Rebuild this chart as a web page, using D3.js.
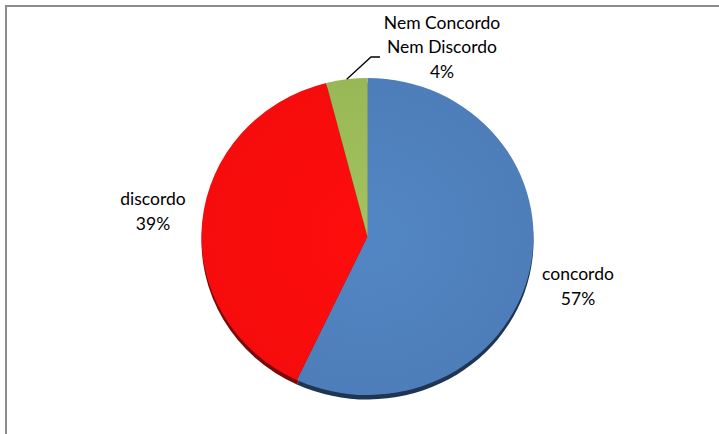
<!DOCTYPE html>
<html>
<head>
<meta charset="utf-8">
<script src="https://cdn.jsdelivr.net/npm/d3@7"></script>
<style>
  html, body { margin: 0; padding: 0; background: #fff; }
  svg { display: block; }
  text { font-family: Lato, "Open Sans", sans-serif; font-size: 17.5px; fill: #000; }
</style>
</head>
<body>
<svg id="chart" width="719" height="434"></svg>
<script>
// ---- data ----
const categories = ["concordo", "discordo", "Nem Concordo Nem Discordo"];
const values = [57, 39, 4];
const labelLines = [["concordo"], ["discordo"], ["Nem Concordo", "Nem Discordo"]];
const colors = ["#4F80BC", "#FA0C0C", "#9BBB59"];
const edgeColors = ["#1E3554", "#7A0A0A", "#4E6330"];

const W = 719, H = 434;
const cx = 367.5, cy = 236.5, rx = 166, ry = 158.5;

const svg = d3.select("#chart");

// frame (only left and top visible)
svg.append("rect")
  .attr("x", 6).attr("y", 6)
  .attr("width", W + 20).attr("height", H + 20)
  .attr("fill", "none").attr("stroke", "#8C8C8C").attr("stroke-width", 2);

const data = categories.map((c, i) => ({ name: c, value: values[i], lines: labelLines[i], i }));

const pie = d3.pie().sort(null).value(d => d.value).startAngle(0).endAngle(2 * Math.PI);
const arcs = pie(data);
const arc = d3.arc().innerRadius(0).outerRadius(rx);

// depth/edge layer
const depth = svg.append("g").attr("transform", `translate(${cx},${cy + 4.5}) scale(1,${ry / rx})`);
depth.selectAll("path").data(arcs).join("path")
  .attr("d", arc)
  .attr("fill", d => edgeColors[d.data.i]);

// face gradients
const defs = svg.append("defs");
colors.forEach((c, i) => {
  const g = defs.append("radialGradient").attr("id", "g" + i)
    .attr("gradientUnits", "userSpaceOnUse")
    .attr("cx", 0).attr("cy", 0).attr("r", rx);
  g.append("stop").attr("offset", "0%").attr("stop-color", d3.color(c).brighter(0.12));
  g.append("stop").attr("offset", "100%").attr("stop-color", d3.color(c).darker(0.05));
});

const face = svg.append("g").attr("transform", `translate(${cx},${cy}) scale(1,${ry / rx})`);
face.selectAll("path").data(arcs).join("path")
  .attr("d", arc)
  .attr("fill", d => `url(#g${d.data.i})`);

// labels
const pct = d => Math.round(d.value) + "%";
const labelPos = [
  { x: 578, y: 280 },
  { x: 153, y: 205 },
  { x: 442, y: 28.5 }
];
const lineH = 24.5;
arcs.forEach(a => {
  const p = labelPos[a.data.i];
  const t = svg.append("text").attr("text-anchor", "middle");
  const lines = a.data.lines.concat([pct(a.data)]);
  lines.forEach((l, k) => {
    t.append("tspan").attr("x", p.x).attr("y", p.y + k * lineH).text(l);
  });
});

// leader line for the small slice
const small = arcs[2];
const mid = (small.startAngle + small.endAngle) / 2;
const sx = cx + rx * Math.sin(mid), sy = cy - ry * Math.cos(mid);
svg.append("polyline")
  .attr("points", `${sx},${sy} ${371},${57} ${380},${57}`)
  .attr("fill", "none").attr("stroke", "#000").attr("stroke-width", 1.3);
</script>
</body>
</html>
